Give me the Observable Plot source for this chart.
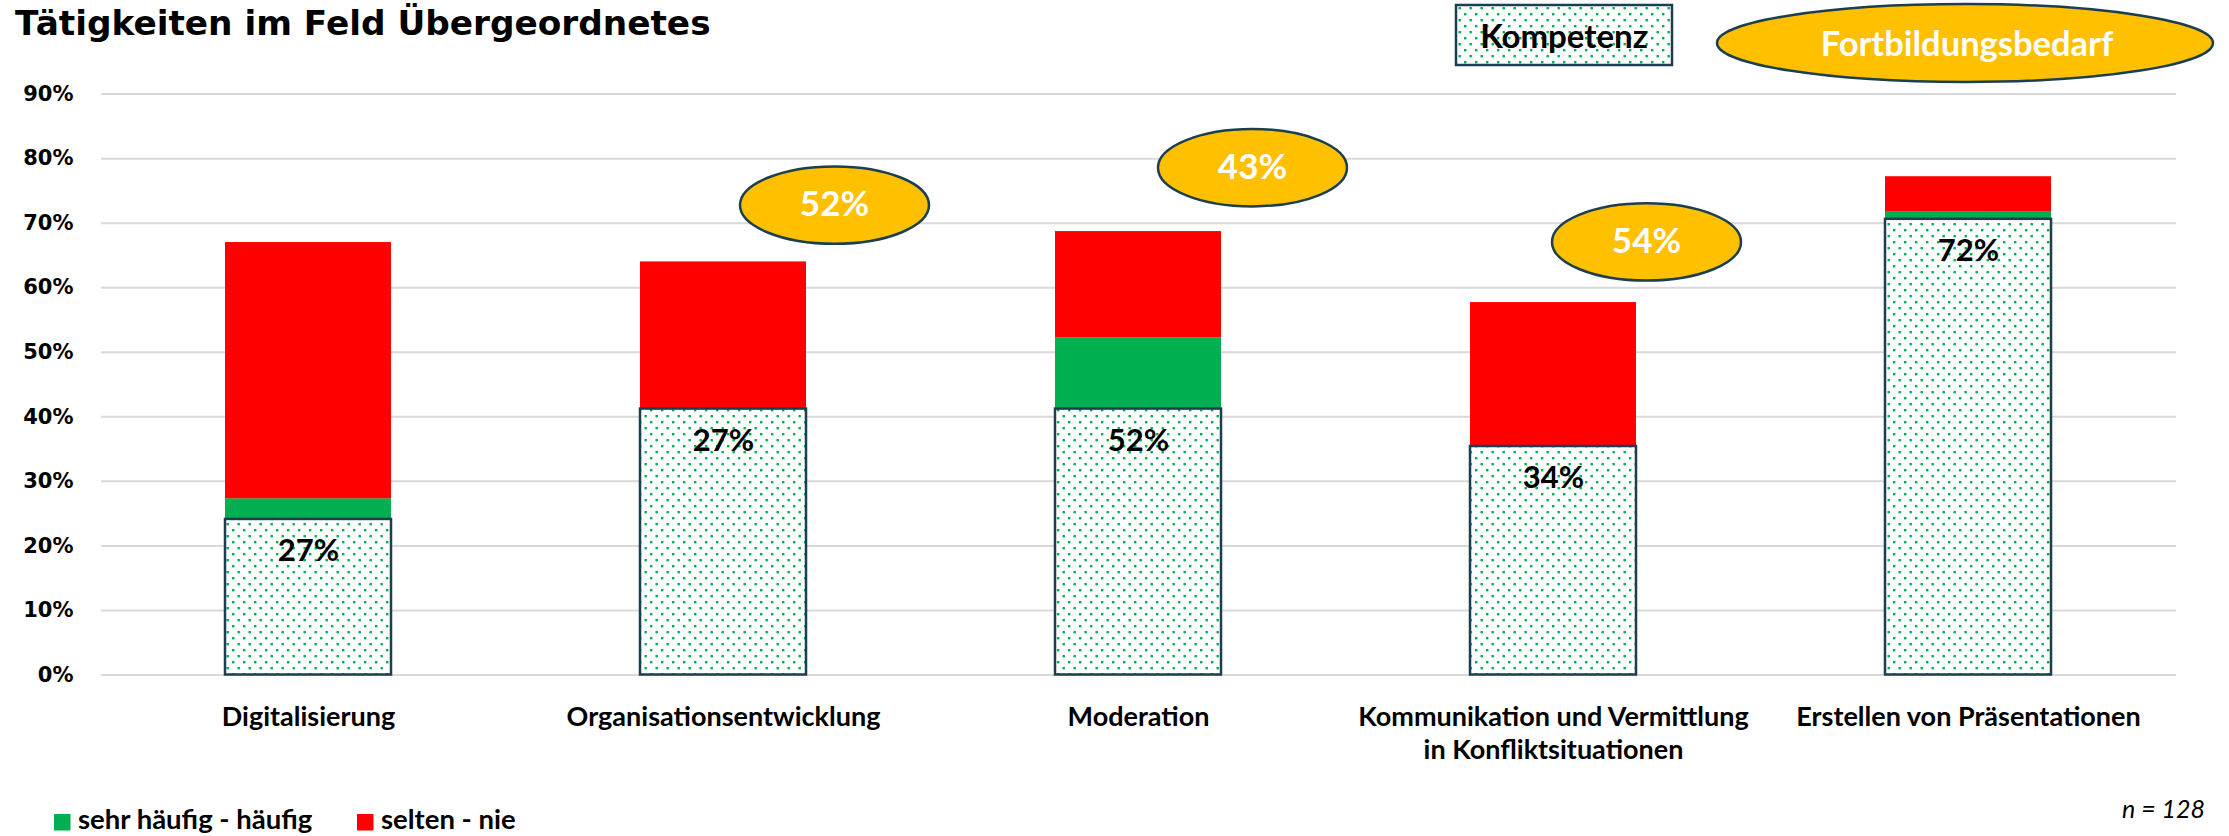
<!DOCTYPE html>
<html>
<head>
<meta charset="utf-8">
<script src="https://cdn.jsdelivr.net/npm/d3@7"></script>
<script src="https://cdn.jsdelivr.net/npm/@observablehq/plot@0.6"></script>
<style>
  body { margin: 0; background: #fff; }
  #wrap { position: relative; width: 2229px; height: 836px; overflow: hidden; background: #fff; }
  #wrap > svg { position: absolute; left: 0; top: 0; }
  #overlay { pointer-events: none; }
</style>
</head>
<body>
<div id="wrap"></div>
<script>
// ---------- data ----------
const categories = [
  "Digitalisierung",
  "Organisationsentwicklung",
  "Moderation",
  "Kommunikation und Vermittlung\nin Konfliktsituationen",
  "Erstellen von Präsentationen"
];
const seriesNames = ["sehr häufig - häufig", "selten - nie"];
const sehrHaeufig = [27.3, 27, 52.2, 34, 71.7];   // green, stacked first
const seltenNie   = [39.7, 37, 16.5, 23.7, 5.5];  // red, stacked on top
const kompetenz   = [24.1, 41.2, 41.2, 35.4, 70.6]; // dotted "Kompetenz" box
const boxLabels   = ["27%", "27%", "52%", "34%", "72%"];
const fortbildung = [null, "52%", "43%", "54%", null]; // Fortbildungsbedarf bubbles
const bubbleY     = [null, 72.8, 78.6, 67.1, null];    // bubble height (in % units)
const bubbleDx    = [0, 111, 114, 93, 0];              // bubble offset right of bar centre
const yTicks      = [0, 10, 20, 30, 40, 50, 60, 70, 80, 90];

// ---------- tables ----------
const stackRows = [];
categories.forEach((c, i) => {
  stackRows.push({cat: c, series: seriesNames[0], value: sehrHaeufig[i]});
  stackRows.push({cat: c, series: seriesNames[1], value: seltenNie[i]});
});
const boxRows = categories.map((c, i) => ({cat: c, komp: kompetenz[i], label: boxLabels[i]}));
const bubbleRows = categories.map((c, i) => ({cat: c, y: bubbleY[i], text: fortbildung[i], dx: bubbleDx[i]}))
  .filter(d => d.text != null);

const RED = "#FF0000", GREEN = "#00B050", GOLD = "#FFC000", DARK = "#1C3F4F";
const catFont = "Lato, 'Open Sans', sans-serif";

function ellipseSymbol(rx, ry) {
  const k = 0.5523;
  return {
    draw(ctx) {
      ctx.moveTo(rx, 0);
      ctx.bezierCurveTo(rx, ry * k, rx * k, ry, 0, ry);
      ctx.bezierCurveTo(-rx * k, ry, -rx, ry * k, -rx, 0);
      ctx.bezierCurveTo(-rx, -ry * k, -rx * k, -ry, 0, -ry);
      ctx.bezierCurveTo(rx * k, -ry, rx, -ry * k, rx, 0);
      ctx.closePath();
    }
  };
}

const bubbleMarks = bubbleRows.flatMap(d => [
  Plot.dot([d], {x: "cat", y: "y", dx: d.dx, symbol: ellipseSymbol(94.5, 38.7),
    fill: GOLD, stroke: DARK, strokeWidth: 2.5}),
  Plot.text([d], {x: "cat", y: "y", dx: d.dx, text: "text", fill: "white",
    fontSize: 35, fontWeight: "bold", fontFamily: catFont})
]);

const plot = Plot.plot({
  width: 2229,
  height: 836,
  marginLeft: 101,
  marginRight: 53,
  marginTop: 93.6,
  marginBottom: 161.5,
  style: {background: "white", overflow: "visible"},
  x: {domain: categories, paddingInner: 0.6, paddingOuter: 0.3},
  y: {domain: [0, 90]},
  color: {domain: seriesNames, range: [GREEN, RED]},
  marks: [
    Plot.gridY(yTicks, {stroke: "#D9D9D9", strokeOpacity: 1, strokeWidth: 2}),
    Plot.axisY(yTicks, {tickSize: 0, tickPadding: 28, tickFormat: d => d + "%",
      fontSize: 21, fontWeight: "bold", fontFamily: "'DejaVu Sans', sans-serif", fill: "#000", label: null}),
    Plot.axisX({tickSize: 0, tickPadding: 27.5, fontSize: 27, fontWeight: "bold",
      fontFamily: catFont, fill: "#000", lineHeight: 1.22, label: null}),
    Plot.barY(stackRows, {x: "cat", y: "value", fill: "series"}),
    Plot.barY(boxRows, {x: "cat", y: "komp", fill: "white"}),
    Plot.barY(boxRows, {x: "cat", y: "komp", fill: "url(#dots)", stroke: DARK, strokeWidth: 2.5}),
    Plot.text(boxRows, {x: "cat", y: "komp", dy: 32, text: "label", fill: "#000",
      fontSize: 31, fontWeight: "bold", fontFamily: catFont}),
    ...bubbleMarks
  ]
});

// dotted pattern
const pat = d3.select(plot).insert("defs", ":first-child")
  .append("pattern").attr("id", "dots").attr("patternUnits", "userSpaceOnUse")
  .attr("width", 11).attr("height", 12);
pat.append("rect").attr("x", 1).attr("y", 1).attr("width", 2.4).attr("height", 2.4).attr("fill", GREEN);
pat.append("rect").attr("x", 6.5).attr("y", 7).attr("width", 2.4).attr("height", 2.4).attr("fill", GREEN);

const wrap = document.getElementById("wrap");
wrap.appendChild(plot);

// ---------- overlay: title, legends, note ----------
const ov = d3.select(wrap).append("svg").attr("id", "overlay")
  .attr("width", 2229).attr("height", 836);
const p2 = ov.append("defs").append("pattern").attr("id", "dots2").attr("patternUnits", "userSpaceOnUse")
  .attr("width", 11).attr("height", 12);
p2.append("rect").attr("x", 1).attr("y", 1).attr("width", 2.4).attr("height", 2.4).attr("fill", GREEN);
p2.append("rect").attr("x", 6.5).attr("y", 7).attr("width", 2.4).attr("height", 2.4).attr("fill", GREEN);

ov.append("text").attr("x", 15).attr("y", 35)
  .attr("font-family", "'DejaVu Sans', sans-serif").attr("font-weight", "bold").attr("font-size", 34.3)
  .attr("fill", "#000").text("Tätigkeiten im Feld Übergeordnetes");

// Kompetenz legend box
ov.append("rect").attr("x", 1456).attr("y", 5).attr("width", 216).attr("height", 60).attr("fill", "white");
ov.append("rect").attr("x", 1456).attr("y", 5).attr("width", 216).attr("height", 60)
  .attr("fill", "url(#dots2)").attr("stroke", DARK).attr("stroke-width", 2.5);
ov.append("text").attr("x", 1564).attr("y", 36).attr("dy", "0.35em").attr("text-anchor", "middle")
  .attr("font-family", catFont).attr("font-weight", "bold").attr("font-size", 33)
  .attr("fill", "#000").text("Kompetenz");

// Fortbildungsbedarf legend ellipse
ov.append("ellipse").attr("cx", 1965).attr("cy", 43).attr("rx", 248).attr("ry", 39)
  .attr("fill", GOLD).attr("stroke", DARK).attr("stroke-width", 2.5);
ov.append("text").attr("x", 1967).attr("y", 44).attr("dy", "0.35em").attr("text-anchor", "middle")
  .attr("font-family", catFont).attr("font-weight", "bold").attr("font-size", 34.5)
  .attr("fill", "white").text("Fortbildungsbedarf");

// bottom legend
const legItems = [
  {name: seriesNames[0], color: GREEN, x: 54},
  {name: seriesNames[1], color: RED, x: 357}
];
legItems.forEach(d => {
  ov.append("rect").attr("x", d.x).attr("y", 814).attr("width", 16.5).attr("height", 16.5).attr("fill", d.color);
  ov.append("text").attr("x", d.x + 24).attr("y", 829)
    .attr("font-family", catFont).attr("font-weight", "bold").attr("font-size", 27.5)
    .attr("fill", "#000").text(d.name);
});

// n note
ov.append("text").attr("x", 2205).attr("y", 818).attr("text-anchor", "end")
  .attr("font-family", catFont).attr("font-style", "italic").attr("font-size", 25)
  .attr("fill", "#000").text("n = 128");
</script>
</body>
</html>
